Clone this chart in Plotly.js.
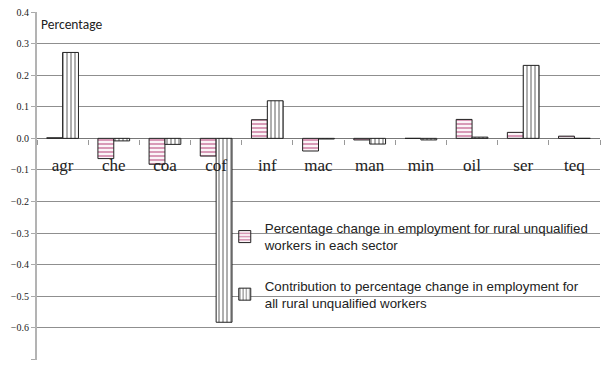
<!DOCTYPE html>
<html>
<head>
<meta charset="utf-8">
<script src="https://cdn.plot.ly/plotly-3.0.1.min.js"></script>
<style>
  html, body { margin: 0; padding: 0; background: #fff; }
  #chart { width: 601px; height: 365px; }
</style>
</head>
<body>
<div id="chart"></div>
<script>
// Sectors
const sectors = ['agr', 'che', 'coa', 'cof', 'inf', 'mac', 'man', 'min', 'oil', 'ser', 'teq'];

// Percentage change in employment for rural unqualified workers in each sector
const sectorChange = [0.002, -0.064, -0.082, -0.056, 0.059, -0.040, -0.005, 0.000, 0.060, 0.019, 0.007];

// Contribution to percentage change in employment for all rural unqualified workers
const contribution = [0.272, -0.008, -0.019, -0.582, 0.119, -0.002, -0.018, -0.005, 0.004, 0.231, 0.000];

const yTicks = [0.4, 0.3, 0.2, 0.1, 0.0, -0.1, -0.2, -0.3, -0.4, -0.5, -0.6, -0.7];

const yMin = -0.7, yMax = 0.4;
const serif = '"Liberation Serif", "Times New Roman", serif';
const sans = '"Liberation Sans", Arial, sans-serif';

const traces = [
  {
    type: 'bar',
    name: 'Percentage change in employment for rural unqualified<br>workers in each sector',
    x: sectors,
    y: sectorChange,
    legendgroup: 'a',
    marker: {
      color: '#e2b3c8',
      line: { color: '#222', width: 1 },
      pattern: { shape: '-', fgcolor: '#ffffff', bgcolor: '#d89ab7', size: 4, solidity: 0.45 }
    },
    hoverinfo: 'x+y'
  },
  {
    type: 'bar',
    name: 'Contribution to percentage change in employment for<br>all rural unqualified workers',
    x: sectors,
    y: contribution,
    legendgroup: 'b',
    marker: {
      color: '#ffffff',
      line: { color: '#222', width: 1 },
      pattern: { shape: '|', fgcolor: '#333333', bgcolor: '#ffffff', size: 4, solidity: 0.2 }
    },
    hoverinfo: 'x+y'
  }
];

const layout = {
  width: 601,
  height: 365,
  margin: { l: 37, r: 1, t: 12, b: 5, pad: 0 },
  paper_bgcolor: '#ffffff',
  plot_bgcolor: '#ffffff',
  barmode: 'group',
  bargap: 0.38,
  bargroupgap: 0,
  showlegend: true,
  legend: {
    x: 0.3335, y: 0.423, xanchor: 'left', yanchor: 'top',
    bgcolor: 'rgba(0,0,0,0)',
    borderwidth: 0,
    traceorder: 'grouped',
    tracegroupgap: 20,
    font: { family: sans, size: 13.3, color: '#222' },
    itemwidth: 30
  },
  // white panel behind the legend text, drawn under the bars but over the grid
  shapes: [
    {
      type: 'rect', layer: 'below',
      xref: 'x domain', yref: 'y domain',
      x0: 0.36, x1: 0.988, y0: 0.136, y1: 0.402,
      fillcolor: '#ffffff', line: { width: 0 }
    }
  ],
  xaxis: {
    type: 'category',
    anchor: 'free',
    position: (0 - yMin) / (yMax - yMin),
    tickson: 'boundaries',
    ticks: 'outside',
    ticklen: 5,
    tickcolor: '#999',
    showline: false,
    showgrid: false,
    zeroline: false,
    ticklabelstandoff: 14,
    tickfont: { family: serif, size: 17, color: '#222' },
    fixedrange: true
  },
  yaxis: {
    range: [yMin - 0.0015, yMax],
    tickvals: yTicks,
    tickformat: '.1f',
    ticks: 'outside',
    ticklen: 4,
    tickcolor: '#aaa',
    showline: true,
    linecolor: '#b3b3b3',
    linewidth: 2,
    showgrid: true,
    gridcolor: '#8f8f8f',
    gridwidth: 1,
    zeroline: true,
    zerolinecolor: '#777',
    zerolinewidth: 1.5,
    tickfont: { family: serif, size: 10, color: '#222' },
    fixedrange: true
  },
  annotations: [
    {
      text: 'Percentage',
      xref: 'paper', yref: 'paper',
      x: 0.003, y: 0.993, xanchor: 'left', yanchor: 'top',
      showarrow: false,
      font: { family: 'Carlito, Calibri, "Open Sans", sans-serif', size: 13.5, color: '#222' }
    }
  ]
};

Plotly.newPlot('chart', traces, layout, { displayModeBar: false, staticPlot: true });
</script>
</body>
</html>
